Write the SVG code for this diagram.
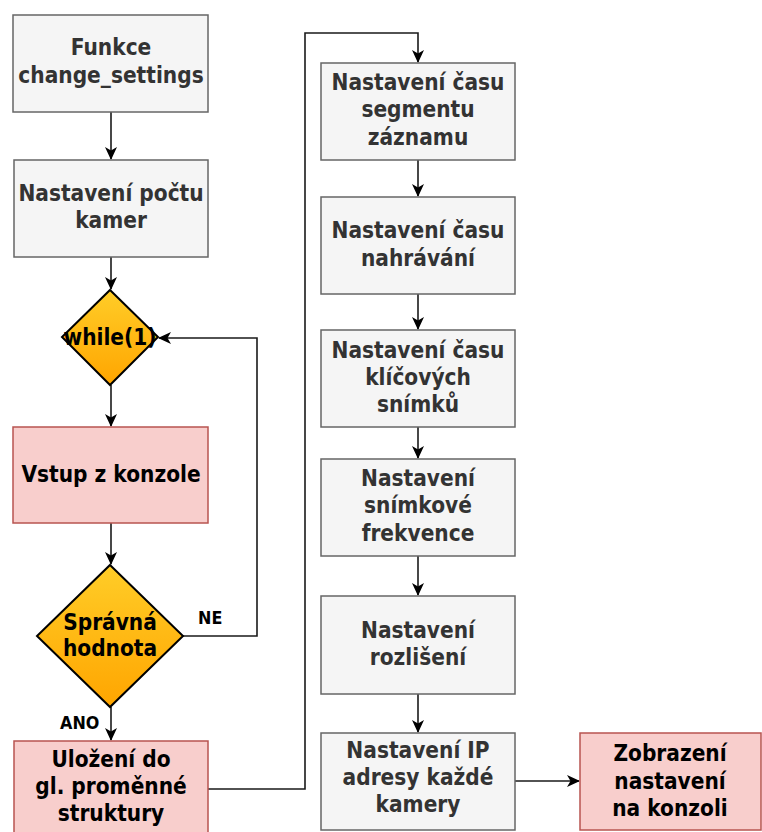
<svg xmlns="http://www.w3.org/2000/svg" width="762" height="832" viewBox="0 0 762 832">
  <style>
    .box { fill: #f5f5f5; stroke: #666666; stroke-width: 1.5; }
    .red { fill: #f8cecc; stroke: #b85450; stroke-width: 1.5; }
    .dia { fill: url(#orange); stroke: #000000; stroke-width: 2; }
    .t { font-family: "DejaVu Sans", Verdana, sans-serif; font-weight: bold; font-size: 20.2px; text-anchor: middle; dominant-baseline: central; }
    .g { fill: #333333; }
    .k { fill: #000000; }
    .lbl { font-family: "DejaVu Sans", Verdana, sans-serif; font-weight: bold; font-size: 16px; fill: #000000; }
    .edge { fill: none; stroke: #1a1a1a; stroke-width: 1.6; }
  </style>
  <defs>
    <linearGradient id="orange" x1="0" y1="0" x2="0" y2="1">
      <stop offset="0" stop-color="#ffcd28"/>
      <stop offset="1" stop-color="#ffa500"/>
    </linearGradient>
    <!-- classic notched arrowhead shared by every connector -->
    <marker id="arrow" markerWidth="14" markerHeight="12" refX="12" refY="6" orient="auto" markerUnits="userSpaceOnUse" viewBox="0 0 14 12">
      <path d="M0,0 L13,6 L0,12 L3.5,6 z" fill="#000000"/>
    </marker>
  </defs>

  <rect width="762" height="832" fill="#ffffff"/>

  <g id="connectors">
    <path class="edge" d="M111,112 V159" marker-end="url(#arrow)"/>
    <path class="edge" d="M111,257 V289" marker-end="url(#arrow)"/>
    <path class="edge" d="M111,385 V426" marker-end="url(#arrow)"/>
    <path class="edge" d="M111,523 V564" marker-end="url(#arrow)"/>
    <path class="edge" d="M111,707 V740" marker-end="url(#arrow)"/>
    <path class="edge" d="M183,636 H257 V338 H159" marker-end="url(#arrow)"/>
    <path class="edge" d="M208,789 H305 V33 H418 V62" marker-end="url(#arrow)"/>
    <path class="edge" d="M418,160 V196" marker-end="url(#arrow)"/>
    <path class="edge" d="M418,294 V329" marker-end="url(#arrow)"/>
    <path class="edge" d="M418,427 V458" marker-end="url(#arrow)"/>
    <path class="edge" d="M418,556 V595" marker-end="url(#arrow)"/>
    <path class="edge" d="M418,694 V732" marker-end="url(#arrow)"/>
    <path class="edge" d="M515,781 H579" marker-end="url(#arrow)"/>
    <text class="lbl" transform="translate(198 624) scale(1 1.15)">NE</text>
    <text class="lbl" transform="translate(60 729) scale(1 1.15)">ANO</text>
  </g>

  <g id="start">
    <rect class="box" x="13" y="15" width="195" height="97"/>
    <text class="t g" transform="translate(111 47) scale(1 1.15)">Funkce</text>
    <text class="t g" transform="translate(111 75) scale(1 1.15)">change_settings</text>
  </g>

  <g id="camera-count">
    <rect class="box" x="14" y="160" width="194" height="97"/>
    <text class="t g" transform="translate(111 193) scale(1 1.15)">Nastavení počtu</text>
    <text class="t g" transform="translate(111 220) scale(1 1.15)">kamer</text>
  </g>

  <g id="loop">
    <polygon class="dia" points="110,290 158,337 110,385 62,337"/>
    <text class="t k" transform="translate(110 337) scale(1 1.15)">while(1)</text>
  </g>

  <g id="console-input">
    <rect class="red" x="13" y="427" width="195" height="96"/>
    <text class="t k" transform="translate(111 474) scale(1 1.15)">Vstup z konzole</text>
  </g>

  <g id="valid-check">
    <polygon class="dia" points="110,565 183,636 110,707 37,636"/>
    <text class="t k" transform="translate(110 622) scale(1 1.15)">Správná</text>
    <text class="t k" transform="translate(110 648) scale(1 1.15)">hodnota</text>
  </g>

  <g id="store-global">
    <rect class="red" x="14" y="741" width="194" height="97"/>
    <text class="t k" transform="translate(111 759) scale(1 1.15)">Uložení do</text>
    <text class="t k" transform="translate(111 786) scale(1 1.15)">gl. proměnné</text>
    <text class="t k" transform="translate(111 813) scale(1 1.15)">struktury</text>
  </g>

  <g id="segment-time">
    <rect class="box" x="321" y="63" width="194" height="97"/>
    <text class="t g" transform="translate(418 82) scale(1 1.15)">Nastavení času</text>
    <text class="t g" transform="translate(418 109) scale(1 1.15)">segmentu</text>
    <text class="t g" transform="translate(418 137) scale(1 1.15)">záznamu</text>
  </g>

  <g id="record-time">
    <rect class="box" x="321" y="197" width="194" height="97"/>
    <text class="t g" transform="translate(418 230) scale(1 1.15)">Nastavení času</text>
    <text class="t g" transform="translate(418 258) scale(1 1.15)">nahrávání</text>
  </g>

  <g id="keyframe-time">
    <rect class="box" x="321" y="330" width="194" height="97"/>
    <text class="t g" transform="translate(418 350) scale(1 1.15)">Nastavení času</text>
    <text class="t g" transform="translate(418 377) scale(1 1.15)">klíčových</text>
    <text class="t g" transform="translate(418 404) scale(1 1.15)">snímků</text>
  </g>

  <g id="frame-rate">
    <rect class="box" x="321" y="459" width="194" height="97"/>
    <text class="t g" transform="translate(418 478) scale(1 1.15)">Nastavení</text>
    <text class="t g" transform="translate(418 505) scale(1 1.15)">snímkové</text>
    <text class="t g" transform="translate(418 533) scale(1 1.15)">frekvence</text>
  </g>

  <g id="resolution">
    <rect class="box" x="321" y="596" width="194" height="98"/>
    <text class="t g" transform="translate(418 630) scale(1 1.15)">Nastavení</text>
    <text class="t g" transform="translate(418 657) scale(1 1.15)">rozlišení</text>
  </g>

  <g id="camera-ip">
    <rect class="box" x="321" y="733" width="194" height="97"/>
    <text class="t g" transform="translate(418 750) scale(1 1.15)">Nastavení IP</text>
    <text class="t g" transform="translate(418 777) scale(1 1.15)">adresy každé</text>
    <text class="t g" transform="translate(418 804) scale(1 1.15)">kamery</text>
  </g>

  <g id="show-settings">
    <rect class="red" x="580" y="733" width="181" height="97"/>
    <text class="t k" transform="translate(670 753) scale(1 1.15)">Zobrazení</text>
    <text class="t k" transform="translate(670 781) scale(1 1.15)">nastavení</text>
    <text class="t k" transform="translate(670 808) scale(1 1.15)">na konzoli</text>
  </g>
</svg>
